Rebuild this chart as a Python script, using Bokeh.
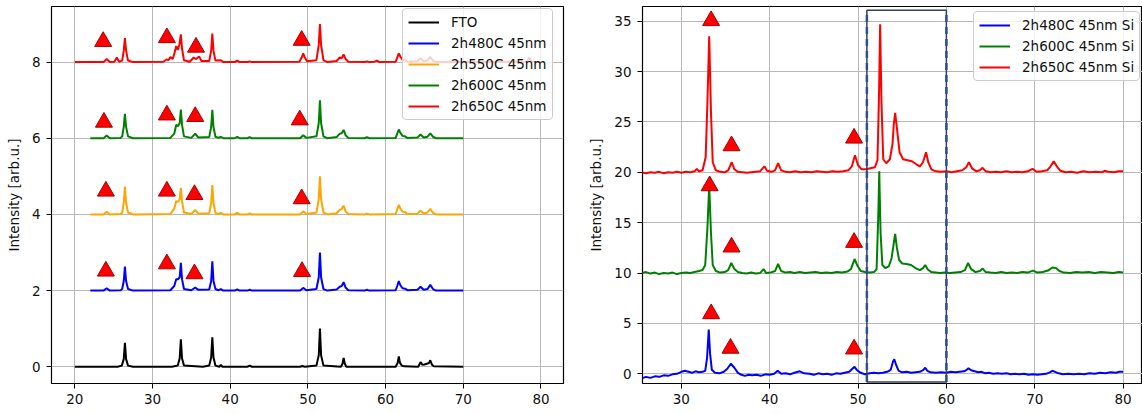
from bokeh.plotting import figure
from bokeh.layouts import row
from bokeh.models import Legend, LegendItem, ColumnDataSource, Range1d, FixedTicker
from bokeh.embed import file_html
from bokeh.resources import INLINE

# ---------------- data: left panel (FTO substrate) ----------------
fto = [(20, 0), (25.5, 0), (26.05, 0.03), (26.3, 0.2), (26.45, 0.63), (26.6, 0.2), (26.85, 0.03), (27.5, 0),
       (32.5, 0), (33.25, 0.03), (33.5, 0.22), (33.65, 0.72), (33.8, 0.22), (34.05, 0.03), (36.5, 0),
       (37.3, 0.03), (37.55, 0.24), (37.7, 0.77), (37.85, 0.24), (38.1, 0.03), (38.6, 0), (38.8, 0.05), (39.0, 0),
       (42.2, 0), (42.5, 0.03), (42.8, 0), (49.0, 0), (49.3, 0.02), (49.6, 0),
       (51.1, 0.03), (51.4, 0.3), (51.55, 1.0), (51.7, 0.3), (52.0, 0.03), (54.25, 0), (54.45, 0.08),
       (54.6, 0.23), (54.75, 0.08), (54.95, 0), (61.3, 0), (61.55, 0.1), (61.7, 0.27), (61.85, 0.1),
       (62.1, 0.03), (62.4, 0.01), (64.2, 0), (64.5, 0.12), (64.75, 0.05), (65.0, 0.06), (65.6, 0.1),
       (65.75, 0.17), (65.95, 0.06), (66.2, 0.01), (70, 0)]

s480 = [(22, 2), (23.7, 2.0), (24.1, 2.06), (24.5, 2.0), (25.9, 2.01), (26.1, 2.04), (26.3, 2.25), (26.45, 2.63),
        (26.6, 2.25), (26.85, 2.04), (27.5, 2.0), (32.3, 2.01), (32.8, 2.12), (33.05, 2.3), (33.3, 2.3),
        (33.5, 2.35), (33.65, 2.73), (33.8, 2.3), (34.05, 2.04), (35.0, 2.01), (35.5, 2.08), (35.9, 2.02),
        (37.3, 2.03), (37.55, 2.25), (37.7, 2.77), (37.85, 2.25), (38.1, 2.04), (38.5, 2.01), (38.8, 2.04),
        (39.1, 2.0), (40.6, 2.0), (40.9, 2.03), (41.2, 2.0), (42.2, 2.0), (42.5, 2.02), (42.8, 2.0),
        (49.0, 2.0), (49.4, 2.07), (49.8, 2.01), (51.1, 2.04), (51.4, 2.35), (51.55, 3.0), (51.7, 2.35),
        (52.0, 2.04), (52.5, 2.0), (53.7, 2.03), (54.1, 2.1), (54.35, 2.12), (54.6, 2.22), (54.85, 2.08),
        (55.2, 2.01), (57.3, 2.0), (57.6, 2.02), (57.9, 2.0), (61.3, 2.01), (61.5, 2.12), (61.7, 2.25),
        (61.9, 2.14), (62.2, 2.06), (62.5, 2.05), (62.8, 2.01), (64.1, 2.02), (64.5, 2.1), (64.9, 2.02),
        (65.4, 2.04), (65.75, 2.15), (66.1, 2.04), (66.5, 2.0), (70, 2.0)]

s550 = [(22, 4), (23.7, 4.0), (24.1, 4.07), (24.5, 4.0), (25.9, 4.01), (26.1, 4.05), (26.3, 4.3), (26.45, 4.73),
        (26.6, 4.3), (26.85, 4.05), (27.5, 4.0), (32.3, 4.01), (32.8, 4.15), (33.05, 4.35), (33.3, 4.33),
        (33.5, 4.4), (33.65, 4.70), (33.8, 4.35), (34.05, 4.05), (35.0, 4.01), (35.5, 4.12), (35.9, 4.02),
        (37.3, 4.03), (37.55, 4.3), (37.7, 4.77), (37.85, 4.3), (38.1, 4.04), (38.5, 4.01), (38.8, 4.04),
        (39.1, 4.0), (40.6, 4.0), (40.9, 4.04), (41.2, 4.0), (42.2, 4.0), (42.5, 4.03), (42.8, 4.0),
        (49.0, 4.0), (49.4, 4.08), (49.8, 4.01), (51.1, 4.05), (51.4, 4.4), (51.55, 5.0), (51.7, 4.4),
        (52.0, 4.05), (52.5, 4.0), (53.7, 4.03), (54.1, 4.12), (54.35, 4.14), (54.6, 4.23), (54.85, 4.08),
        (55.2, 4.01), (57.3, 4.0), (57.6, 4.02), (57.9, 4.0), (61.3, 4.01), (61.5, 4.13), (61.7, 4.25),
        (61.9, 4.15), (62.2, 4.07), (62.5, 4.06), (62.8, 4.01), (64.1, 4.02), (64.5, 4.1), (64.9, 4.02),
        (65.4, 4.05), (65.75, 4.15), (66.1, 4.04), (66.5, 4.0), (70, 4.0)]

s600 = [(22, 6), (23.7, 6.0), (24.1, 6.07), (24.5, 6.0), (25.9, 6.01), (26.1, 6.05), (26.3, 6.3), (26.45, 6.64),
        (26.6, 6.3), (26.85, 6.05), (27.5, 6.0), (32.3, 6.01), (32.8, 6.12), (33.05, 6.35), (33.3, 6.32),
        (33.5, 6.4), (33.65, 6.75), (33.8, 6.35), (34.05, 6.05), (35.0, 6.01), (35.5, 6.12), (35.9, 6.02),
        (37.3, 6.03), (37.55, 6.3), (37.7, 6.75), (37.85, 6.3), (38.1, 6.04), (38.5, 6.01), (38.8, 6.04),
        (39.1, 6.0), (40.6, 6.0), (40.9, 6.04), (41.2, 6.0), (42.2, 6.0), (42.5, 6.03), (42.8, 6.0),
        (49.0, 6.0), (49.4, 6.08), (49.8, 6.01), (51.1, 6.05), (51.4, 6.4), (51.55, 7.0), (51.7, 6.4),
        (52.0, 6.05), (52.5, 6.0), (53.7, 6.03), (54.1, 6.12), (54.35, 6.13), (54.6, 6.22), (54.85, 6.08),
        (55.2, 6.01), (57.3, 6.0), (57.6, 6.03), (57.9, 6.0), (61.3, 6.01), (61.5, 6.12), (61.7, 6.23),
        (61.9, 6.14), (62.2, 6.06), (62.5, 6.05), (62.8, 6.01), (64.1, 6.02), (64.5, 6.1), (64.9, 6.02),
        (65.4, 6.04), (65.75, 6.13), (66.1, 6.04), (66.5, 6.0), (70, 6.0)]

s650 = [(20, 8.0), (23.7, 8.0), (24.1, 8.08), (24.5, 8.0), (25.1, 8.01), (25.4, 8.12), (25.7, 8.01), (26.1, 8.04),
        (26.3, 8.3), (26.45, 8.63), (26.6, 8.3), (26.85, 8.04), (27.5, 8.0), (31.4, 8.01), (31.8, 8.07),
        (32.05, 8.05), (32.3, 8.13), (32.6, 8.08), (32.85, 8.25), (33.05, 8.42), (33.25, 8.32), (33.45, 8.45),
        (33.65, 8.73), (33.8, 8.35), (34.05, 8.05), (34.8, 8.01), (35.3, 8.12), (35.6, 8.08), (36.0, 8.15),
        (36.3, 8.03), (37.3, 8.03), (37.55, 8.3), (37.7, 8.75), (37.85, 8.3), (38.1, 8.04), (38.8, 8.05),
        (39.1, 8.0), (40.6, 8.0), (40.9, 8.04), (41.2, 8.0), (42.2, 8.0), (42.5, 8.02), (42.8, 8.0),
        (48.9, 8.01), (49.2, 8.12), (49.4, 8.23), (49.6, 8.12), (49.9, 8.02), (51.1, 8.05), (51.4, 8.45),
        (51.55, 9.0), (51.7, 8.45), (52.0, 8.05), (52.5, 8.0), (53.7, 8.03), (54.1, 8.12), (54.35, 8.1),
        (54.6, 8.2), (54.85, 8.08), (55.2, 8.01), (57.3, 8.0), (57.6, 8.02), (57.9, 8.0), (58.6, 8.01),
        (58.9, 8.04), (59.2, 8.0), (61.3, 8.01), (61.5, 8.12), (61.7, 8.23), (61.9, 8.14), (62.2, 8.06),
        (62.5, 8.05), (62.8, 8.01), (64.1, 8.02), (64.5, 8.1), (64.9, 8.02), (65.4, 8.04), (65.75, 8.14),
        (66.1, 8.04), (66.5, 8.0), (70.8, 8.0), (71.1, 8.03), (71.4, 8.0), (78.2, 8.01), (78.5, 8.12),
        (78.8, 8.01), (80, 8.0)]

left_labels = ["FTO", "2h480C 45nm", "2h550C 45nm", "2h600C 45nm", "2h650C 45nm"]
left_colors = ["black", "#0000ff", "#ffa500", "#008000", "#ff0000"]

# triangle markers (phase marks), left panel
tri_left_x = [23.65, 31.85, 35.6, 49.2, 23.75, 31.85, 35.5, 48.95, 24.0, 31.85, 35.4, 49.2, 24.0, 31.85, 35.4, 49.25]
tri_left_y = [8.54, 8.64, 8.39, 8.57, 6.42, 6.61, 6.57, 6.48, 4.61, 4.61, 4.52, 4.41, 2.51, 2.70, 2.44, 2.50]

# ---------------- data: right panel (Si substrate) ----------------
si480 = [(25.5, -0.45), (26.0, -0.3), (26.5, -0.4), (27.0, -0.25), (27.5, -0.3), (28.0, -0.15), (28.5, -0.2),
         (29.0, -0.05), (29.5, 0.0), (30.0, 0.2), (30.4, 0.3), (30.8, 0.2), (31.2, 0.1), (31.6, 0.25),
         (32.0, 0.15), (32.4, 0.2), (32.7, 0.3), (32.9, 1.5), (33.1, 4.4), (33.25, 2.0), (33.45, 0.4),
         (33.8, 0.1), (34.3, 0.05), (34.8, 0.2), (35.2, 0.5), (35.6, 1.0), (36.0, 0.6), (36.4, 0.1),
         (36.8, -0.1), (37.2, -0.2), (37.6, -0.1), (38.0, -0.15), (38.5, -0.1), (39.0, -0.2), (39.5, -0.05),
         (40.0, -0.1), (40.5, 0.0), (40.9, 0.3), (41.3, 0.0), (41.8, 0.05), (42.3, -0.05), (42.8, 0.1),
         (43.4, 0.25), (43.9, 0.05), (44.5, 0.0), (45.0, -0.1), (45.5, 0.05), (46.0, -0.05), (46.5, 0.0),
         (47.0, -0.1), (47.5, 0.05), (48.0, 0.0), (48.5, 0.1), (49.0, 0.2), (49.3, 0.45), (49.6, 0.7),
         (49.9, 0.35), (50.3, 0.1), (50.8, -0.05), (51.3, 0.05), (51.8, 0.1), (52.3, 0.05), (52.8, 0.1),
         (53.3, 0.2), (53.7, 0.4), (53.95, 1.2), (54.1, 1.45), (54.3, 0.9), (54.6, 0.3), (55.0, 0.15),
         (55.5, 0.2), (56.0, 0.1), (56.5, 0.15), (57.0, 0.2), (57.4, 0.4), (57.6, 0.6), (57.85, 0.3),
         (58.2, 0.15), (58.8, 0.1), (59.4, 0.15), (60.0, 0.1), (60.5, 0.2), (61.0, 0.15), (61.5, 0.2),
         (62.0, 0.25), (62.3, 0.4), (62.5, 0.55), (62.8, 0.35), (63.2, 0.25), (63.6, 0.15), (64.0, 0.2),
         (64.4, 0.05), (64.8, 0.1), (65.3, 0.0), (65.8, 0.05), (66.3, 0.0), (66.8, 0.05), (67.3, -0.05),
         (67.8, 0.0), (68.3, -0.05), (68.8, 0.0), (69.3, -0.1), (69.8, -0.05), (70.3, -0.1), (70.8, -0.05),
         (71.3, 0.0), (71.7, 0.15), (72.0, 0.3), (72.3, 0.2), (72.7, 0.05), (73.2, -0.05), (73.8, 0.0),
         (74.4, -0.05), (75.0, 0.0), (75.6, -0.05), (76.2, 0.05), (76.8, 0.0), (77.4, 0.1), (78.0, 0.05),
         (78.6, 0.15), (79.2, 0.1), (79.6, 0.2), (80.0, 0.2)]

si600 = [(25.5, 10.0), (26.0, 10.1), (26.5, 9.95), (27.0, 10.05), (27.5, 9.9), (28.0, 10.0), (28.5, 9.95),
         (29.0, 10.05), (29.5, 9.9), (30.0, 10.0), (30.5, 10.05), (31.0, 10.0), (31.5, 10.1), (32.0, 10.2),
         (32.4, 10.3), (32.7, 10.8), (32.95, 14.5), (33.15, 18.7), (33.35, 14.0), (33.55, 10.8), (33.9, 10.2),
         (34.4, 10.05), (34.9, 10.1), (35.3, 10.3), (35.65, 11.0), (36.0, 10.4), (36.4, 10.1), (36.9, 10.0),
         (37.4, 9.95), (37.9, 10.05), (38.4, 9.95), (38.9, 10.0), (39.3, 10.4), (39.6, 10.0), (40.1, 10.05),
         (40.6, 10.2), (40.95, 10.9), (41.3, 10.2), (41.8, 10.05), (42.3, 10.1), (42.8, 10.0), (43.4, 10.1),
         (44.0, 10.0), (44.6, 10.05), (45.2, 10.1), (45.8, 10.0), (46.4, 10.05), (47.0, 10.0), (47.6, 10.1),
         (48.2, 10.05), (48.8, 10.15), (49.2, 10.4), (49.6, 11.4), (49.95, 10.7), (50.3, 10.2), (50.8, 10.1),
         (51.3, 10.05), (51.8, 10.1), (52.1, 10.4), (52.3, 16.0), (52.4, 20.1), (52.55, 14.0), (52.75, 10.8),
         (53.1, 10.5), (53.5, 10.7), (53.8, 11.5), (54.05, 13.0), (54.2, 13.9), (54.4, 12.5), (54.65, 11.3),
         (55.0, 10.95), (55.5, 10.9), (56.0, 10.8), (56.5, 10.5), (57.0, 10.3), (57.35, 10.5), (57.6, 10.8),
         (57.9, 10.35), (58.3, 10.1), (58.8, 10.05), (59.3, 10.0), (59.8, 10.05), (60.4, 10.0), (61.0, 10.05),
         (61.6, 10.1), (62.1, 10.3), (62.45, 11.0), (62.8, 10.4), (63.3, 10.1), (63.8, 10.2), (64.1, 10.45),
         (64.45, 10.1), (65.0, 10.05), (65.6, 10.0), (66.2, 10.1), (66.8, 10.0), (67.4, 10.05), (68.0, 10.0),
         (68.6, 10.1), (69.2, 10.05), (69.8, 10.25), (70.3, 10.05), (70.9, 10.1), (71.5, 10.25), (72.0, 10.55),
         (72.4, 10.5), (72.8, 10.2), (73.3, 10.05), (74.0, 10.0), (74.7, 10.1), (75.4, 10.05), (76.1, 10.1),
         (76.8, 10.0), (77.5, 10.1), (78.2, 10.05), (78.9, 10.0), (79.5, 10.1), (80.0, 10.05)]

si650 = [(25.5, 20.0), (26.0, 19.9), (26.5, 20.0), (27.0, 19.95), (27.5, 20.05), (28.0, 19.9), (28.5, 20.0),
         (29.0, 19.95), (29.5, 20.05), (30.0, 19.95), (30.5, 20.05), (31.0, 20.0), (31.5, 20.1), (31.75, 20.35),
         (32.0, 20.1), (32.4, 20.2), (32.75, 21.5), (32.95, 27.0), (33.15, 33.5), (33.35, 26.0), (33.55, 21.0),
         (33.9, 20.2), (34.4, 20.05), (34.9, 20.0), (35.3, 20.2), (35.7, 21.0), (36.0, 20.3), (36.4, 20.05),
         (36.9, 20.0), (37.4, 19.95), (37.9, 20.0), (38.4, 20.05), (38.9, 20.1), (39.4, 20.6), (39.7, 20.15),
         (40.2, 20.05), (40.6, 20.2), (40.95, 20.9), (41.3, 20.2), (41.8, 20.05), (42.3, 20.0), (42.9, 20.1),
         (43.5, 20.0), (44.1, 20.05), (44.7, 20.0), (45.3, 20.1), (45.9, 20.05), (46.5, 20.0), (47.1, 20.1),
         (47.7, 20.05), (48.3, 20.1), (48.9, 20.2), (49.3, 20.6), (49.65, 21.7), (50.0, 20.7), (50.4, 20.3),
         (50.9, 20.3), (51.4, 20.4), (51.9, 20.5), (52.2, 21.2), (52.38, 28.0), (52.5, 34.7), (52.65, 27.0),
         (52.85, 21.3), (53.2, 20.9), (53.6, 21.3), (53.9, 22.8), (54.05, 24.8), (54.2, 25.9), (54.45, 24.0),
         (54.7, 22.0), (55.1, 21.3), (55.6, 21.2), (56.1, 21.1), (56.6, 20.8), (57.0, 20.6), (57.35, 21.0),
         (57.7, 22.0), (57.95, 21.0), (58.3, 20.3), (58.8, 20.1), (59.4, 20.05), (60.0, 20.1), (60.6, 20.0),
         (61.2, 20.1), (61.8, 20.2), (62.25, 20.5), (62.55, 21.0), (62.9, 20.4), (63.4, 20.1), (63.8, 20.2),
         (64.1, 20.45), (64.45, 20.1), (65.0, 20.0), (65.6, 20.05), (66.2, 20.0), (66.8, 20.1), (67.4, 20.0),
         (68.0, 20.05), (68.6, 20.0), (69.2, 20.1), (69.75, 20.35), (70.2, 20.05), (70.8, 20.1), (71.4, 20.2),
         (71.8, 20.6), (72.15, 21.1), (72.5, 20.6), (72.9, 20.15), (73.5, 20.0), (74.1, 20.05), (74.8, 19.95),
         (75.5, 20.1), (76.2, 20.0), (76.9, 20.05), (77.6, 20.0), (77.9, 20.15), (78.3, 20.05), (79.0, 20.0),
         (79.5, 20.1), (80.0, 20.1)]

right_labels = ["2h480C 45nm Si", "2h600C 45nm Si", "2h650C 45nm Si"]
right_colors = ["#0000ff", "#008000", "#ff0000"]

tri_right_x = [33.37, 35.68, 49.55, 33.2, 35.68, 49.55, 33.37, 35.56, 49.55]
tri_right_y = [35.05, 22.63, 23.39, 18.66, 12.58, 13.04, 5.96, 2.53, 2.46]

# highlighted 2-theta window on the right panel
box_x = [51.0, 60.0]
box_y = [-0.8, 36.1]

left_xticks = [20, 30, 40, 50, 60, 70, 80]
left_yticks = [0, 2, 4, 6, 8]
right_xticks = [30, 40, 50, 60, 70, 80]
right_yticks = [0, 5, 10, 15, 20, 25, 30, 35]
ylabel = "Intensity [arb.u.]"

FONT = "DejaVu Sans"
FS = "13.5px"


def style(p, xt, yt):
    p.outline_line_color = "black"
    p.outline_line_width = 1.2
    p.outline_line_alpha = 1.0
    p.background_fill_color = "white"
    p.border_fill_color = "white"
    for ax in (p.xaxis[0], p.yaxis[0]):
        ax.axis_line_color = None
        ax.major_tick_out = 5
        ax.major_tick_in = 0
        ax.minor_tick_out = 0
        ax.minor_tick_in = 0
        ax.major_tick_line_color = "black"
        ax.major_tick_line_width = 1
        ax.major_label_text_font = FONT
        ax.major_label_text_font_size = FS
        ax.major_label_text_color = "#111111"
        ax.major_label_standoff = 6
        ax.axis_label_text_font = FONT
        ax.axis_label_text_font_size = FS
        ax.axis_label_text_font_style = "normal"
        ax.axis_label_text_color = "#111111"
    p.xaxis[0].ticker = FixedTicker(ticks=xt)
    p.yaxis[0].ticker = FixedTicker(ticks=yt)
    p.xaxis[0].major_label_standoff = 5
    p.yaxis[0].axis_label = ylabel
    p.yaxis[0].axis_label_standoff = 7
    p.xgrid[0].ticker = FixedTicker(ticks=xt)
    p.ygrid[0].ticker = FixedTicker(ticks=yt)
    p.grid.grid_line_color = "#b8b8b8"
    p.grid.grid_line_width = 1


def make_legend(items, loc):
    leg = Legend(items=items, location=loc)
    leg.label_text_font = FONT
    leg.label_text_font_size = FS
    leg.label_text_color = "#111111"
    leg.glyph_width = 31
    leg.glyph_height = 16
    leg.label_height = 16
    leg.label_standoff = 12
    leg.spacing = 5
    leg.padding = 5
    leg.margin = 0
    leg.background_fill_color = "white"
    leg.background_fill_alpha = 0.8
    leg.border_line_color = "#cccccc"
    leg.border_line_width = 1
    leg.border_line_alpha = 1.0
    try:
        leg.border_radius = 4
    except Exception:
        pass
    return leg


# ---------------- left figure ----------------
p1 = figure(width=565, height=414, output_backend="svg", toolbar_location=None,
            x_range=Range1d(17.0, 82.9), y_range=Range1d(-0.44, 9.46),
            min_border_left=51, min_border_right=2, min_border_top=3, min_border_bottom=31)
style(p1, left_xticks, left_yticks)

items1 = []
for data, lab, col in zip([fto, s480, s550, s600, s650], left_labels, left_colors):
    src = ColumnDataSource(dict(x=[a for a, b in data], y=[b for a, b in data]))
    r = p1.line("x", "y", source=src, line_color=col, line_width=2)
    items1.append(LegendItem(label=lab, renderers=[r]))

p1.scatter(tri_left_x, tri_left_y, marker="triangle", size=17, fill_color="#ff0000",
           line_color="#a80000", line_width=1)
p1.add_layout(make_legend(items1, (351, 263)))

# ---------------- right figure ----------------
p2 = figure(width=577, height=414, output_backend="svg", toolbar_location=None,
            x_range=Range1d(25.6, 82.2), y_range=Range1d(-0.96, 36.46),
            min_border_left=77, min_border_right=0, min_border_top=6, min_border_bottom=31)
style(p2, right_xticks, right_yticks)

items2 = []
for data, lab, col in zip([si480, si600, si650], right_labels, right_colors):
    src = ColumnDataSource(dict(x=[a for a, b in data], y=[b for a, b in data]))
    r = p2.line("x", "y", source=src, line_color=col, line_width=2)
    items2.append(LegendItem(label=lab, renderers=[r]))

p2.scatter(tri_right_x, tri_right_y, marker="triangle", size=17, fill_color="#ff0000",
           line_color="#a80000", line_width=1)

p2.quad(left=[box_x[0]], right=[box_x[1]], bottom=[box_y[0]], top=[box_y[1]],
        fill_color=None, line_color="#34405a", line_width=1.5)
p2.segment(x0=box_x, y0=[box_y[0]] * 2, x1=box_x, y1=[box_y[1]] * 2,
           line_color="#2b4f8f", line_width=2.5, line_dash="7 5")

p2.add_layout(make_legend(items2, (331, 302)))

layout = row(p1, p2, spacing=0)
open("out.html", "w").write(file_html(layout, INLINE))
